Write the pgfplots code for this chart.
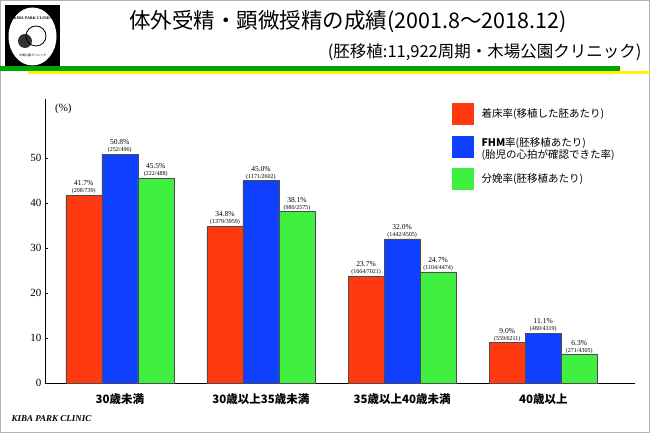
\documentclass[border=0pt]{standalone}
\usepackage{pgfplots}
\pgfplotsset{compat=1.18}
\usepackage{fontspec}
\setmainfont{Liberation Serif}
\newfontfamily\cjk{Noto Sans CJK JP}
\definecolor{cred}{HTML}{FF3A10}
\definecolor{cblue}{HTML}{1040FF}
\definecolor{cgreen}{HTML}{40F040}
\begin{document}
\begin{tikzpicture}[x=1pt,y=1pt]
\useasboundingbox (0,0) rectangle (650,433);
\fill[white] (0,0) rectangle (650,433);
\draw[gray!60] (0.5,0.5) rectangle (649.5,432.5);
% logo
\fill[black] (5,365) rectangle (60,428);
\fill[white] (32.5,396.5) ellipse (24 and 29);
\node[font=\fontsize{4}{4}\selectfont\bfseries] at (32.5,415) {KIBA PARK CLINIC};
\fill[black!80] (25,392) circle (7);
\draw[black,thick] (36,397) circle (10);
\node[font=\cjk\fontsize{3}{3}\selectfont] at (32.5,378) {木場公園クリニック};
% title
\node[font=\cjk\fontsize{21.5}{21.5}\selectfont] at (348,411) {体外受精・顕微授精の成績(2001.8〜2018.12)};
\node[font=\cjk\fontsize{16.5}{16.5}\selectfont,anchor=east] at (645,381) {(胚移植:11,922周期・木場公園クリニック)};
\fill[green!65!black] (0,362) rectangle (620,367);
\fill[yellow] (28,359) rectangle (650,361.5);
\node[font=\itshape\bfseries\fontsize{9}{9}\selectfont,anchor=west] at (8,14) {KIBA PARK CLINIC};
% legend
\foreach \c/\y in {cred/308,cblue/275,cgreen/243}{\fill[\c] (452,\y) rectangle (474,\y+22);}
\node[font=\cjk\fontsize{10.5}{10.5}\selectfont,anchor=west] at (478,319) {着床率(移植した胚あたり)};
\node[font=\cjk\fontsize{10.5}{12.5}\selectfont,anchor=west,align=left] at (478,284) {\textbf{FHM}率(胚移植あたり)\\(胎児の心拍が確認できた率)};
\node[font=\cjk\fontsize{10.5}{10.5}\selectfont,anchor=west] at (478,254) {分娩率(胚移植あたり)};
\begin{axis}[at={(45pt,50pt)},anchor=south west,scale only axis,width=590pt,height=283.5pt,
 xmin=-0.53,xmax=3.65,ymin=0,ymax=63,
 axis x line*=bottom, axis y line*=left, axis line style={black},
 ytick={0,10,...,50}, yticklabel style={font=\fontsize{11}{11}\selectfont},
 /pgf/number format/assume math mode=true,
 xtick={0,1,2,3}, xticklabels={30歳未満,30歳以上35歳未満,35歳以上40歳未満,40歳以上},
 xticklabel style={font=\cjk\bfseries\fontsize{11.5}{11.5}\selectfont,yshift=-4pt},
 major tick length=3pt, tick style={black}, x tick style={draw=none},
 ybar=0pt, bar width=36pt,
 point meta=explicit symbolic,
 nodes near coords, every node near coord/.append style={align=center,font=\fontsize{7.5}{7}\selectfont,inner sep=1pt},
 clip=false]
\addplot[fill=cred,draw=black!70] coordinates {(0,41.7)[41.7\%\\{\fontsize{6}{6}\selectfont(208/739)}] (1,34.8)[34.8\%\\{\fontsize{6}{6}\selectfont(1379/3959)}] (2,23.7)[23.7\%\\{\fontsize{6}{6}\selectfont(1664/7021)}] (3,9.0)[9.0\%\\{\fontsize{6}{6}\selectfont(559/6211)}]};
\addplot[fill=cblue,draw=black!70] coordinates {(0,50.8)[50.8\%\\{\fontsize{6}{6}\selectfont(252/496)}] (1,45.0)[45.0\%\\{\fontsize{6}{6}\selectfont(1171/2602)}] (2,32.0)[32.0\%\\{\fontsize{6}{6}\selectfont(1442/4505)}] (3,11.1)[11.1\%\\{\fontsize{6}{6}\selectfont(480/4319)}]};
\addplot[fill=cgreen,draw=black!70] coordinates {(0,45.5)[45.5\%\\{\fontsize{6}{6}\selectfont(222/488)}] (1,38.1)[38.1\%\\{\fontsize{6}{6}\selectfont(980/2575)}] (2,24.7)[24.7\%\\{\fontsize{6}{6}\selectfont(1104/4474)}] (3,6.3)[6.3\%\\{\fontsize{6}{6}\selectfont(271/4305)}]};
\node[font=\fontsize{11}{11}\selectfont] at (axis cs:-0.4,61) {(\%)};
\end{axis}
\end{tikzpicture}
\end{document}
